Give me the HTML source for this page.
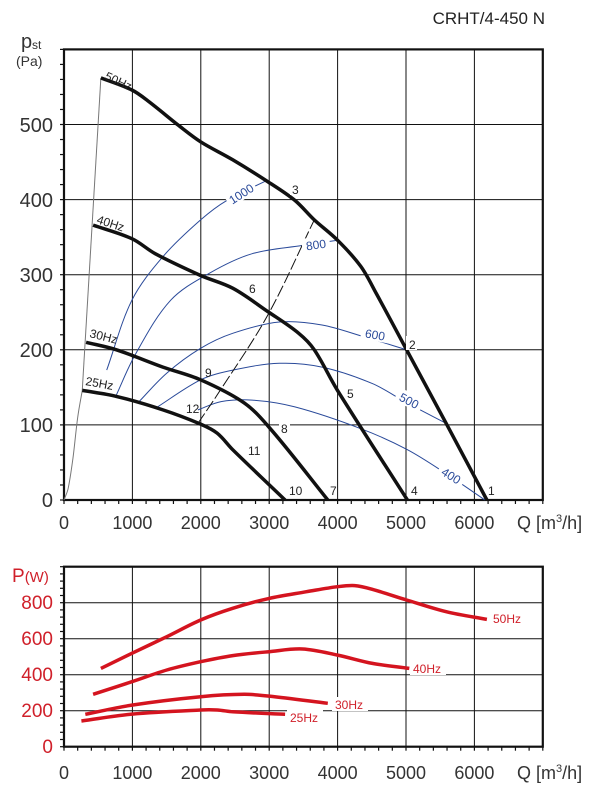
<!DOCTYPE html>
<html><head><meta charset="utf-8">
<style>
html,body{margin:0;padding:0;background:#fff;}
svg{display:block;font-family:"Liberation Sans",Arial,sans-serif;}
</style></head>
<body>
<svg id="s" width="608" height="796" viewBox="0 0 608 796" xmlns="http://www.w3.org/2000/svg">
<rect width="608" height="796" fill="#fff"/>
<g id="grid"></g>
<g id="curves"></g>
<text x="545" y="24" font-size="17" text-anchor="end" fill="#222">CRHT/4-450 N</text>
<text x="21" y="48" font-size="20" fill="#333">p</text><text x="32" y="49" font-size="12" fill="#333">st</text>
<text x="16" y="66" font-size="14" fill="#333">(Pa)</text>
<g font-size="20" fill="#333" text-anchor="end">
<text x="53" y="507">0</text>
<text x="53" y="432">100</text>
<text x="53" y="357">200</text>
<text x="53" y="282">300</text>
<text x="53" y="207">400</text>
<text x="53" y="132">500</text>
</g>
<g font-size="18" fill="#333" text-anchor="middle">
<text x="64" y="529">0</text>
<text x="132.4" y="529">1000</text>
<text x="200.8" y="529">2000</text>
<text x="269.2" y="529">3000</text>
<text x="337.6" y="529">4000</text>
<text x="406" y="529">5000</text>
<text x="474.4" y="529">6000</text>
</g>
<text x="517" y="529" font-size="18" fill="#333">Q [m<tspan font-size="11" dy="-7">3</tspan><tspan dy="7">/h]</tspan></text>
<text x="12" y="582" font-size="19" fill="#d0202a">P<tspan font-size="15">(W)</tspan></text>
<g font-size="19" fill="#d0202a" text-anchor="end">
<text x="53" y="753">0</text>
<text x="53" y="717">200</text>
<text x="53" y="681">400</text>
<text x="53" y="645">600</text>
<text x="53" y="609">800</text>
</g>
<g font-size="18" fill="#333" text-anchor="middle">
<text x="64" y="779">0</text>
<text x="132.4" y="779">1000</text>
<text x="200.8" y="779">2000</text>
<text x="269.2" y="779">3000</text>
<text x="337.6" y="779">4000</text>
<text x="406" y="779">5000</text>
<text x="474.4" y="779">6000</text>
</g>
<text x="517" y="779" font-size="18" fill="#333">Q [m<tspan font-size="11" dy="-7">3</tspan><tspan dy="7">/h]</tspan></text>
<g font-size="12" fill="#222">
<g><rect x="290" y="181" width="11" height="14" fill="#fff"/><text x="292" y="194">3</text></g>
<text x="249" y="293">6</text>
<g><rect x="406" y="336" width="11" height="14" fill="#fff"/><text x="409" y="349">2</text></g>
<text x="205" y="377">9</text>
<text x="347" y="398">5</text>
<text x="186" y="413">12</text>
<g><rect x="279" y="421" width="11" height="14" fill="#fff"/><text x="281" y="433">8</text></g>
<text x="248" y="455">11</text>
<g><rect x="288" y="483" width="17" height="14" fill="#fff"/><text x="289" y="495">10</text></g>
<text x="330" y="495">7</text>
<text x="411" y="495">4</text>
<text x="488" y="495">1</text>
<text x="104" y="79" transform="rotate(25 104 79)">50Hz</text>
<text x="96" y="223" transform="rotate(18 96 223)">40Hz</text>
<text x="89" y="337" transform="rotate(14 89 337)">30Hz</text>
<text x="85" y="385" transform="rotate(10 85 385)">25Hz</text>
</g>
<g font-size="12" fill="#2a4a9a">
<g transform="rotate(-33 242 195)"><rect x="226" y="186" width="32" height="14" fill="#fff"/><text x="242" y="198" text-anchor="middle">1000</text></g>
<g transform="rotate(-8 316 245)"><rect x="302" y="237" width="28" height="14" fill="#fff"/><text x="316" y="249" text-anchor="middle">800</text></g>
<g transform="rotate(10 375 335)"><rect x="361" y="327" width="28" height="14" fill="#fff"/><text x="375" y="339" text-anchor="middle">600</text></g>
<g transform="rotate(28 409 401)"><rect x="395" y="393" width="28" height="14" fill="#fff"/><text x="409" y="405" text-anchor="middle">500</text></g>
<g transform="rotate(32 451 476)"><rect x="437" y="468" width="28" height="14" fill="#fff"/><text x="451" y="480" text-anchor="middle">400</text></g>
</g>
<g font-size="12" fill="#d0202a">
<rect x="490" y="611" width="36" height="14" fill="#fff"/><text x="493" y="623">50Hz</text>
<rect x="410" y="661" width="36" height="14" fill="#fff"/><text x="413" y="673">40Hz</text>
<rect x="332" y="697" width="36" height="14" fill="#fff"/><text x="335" y="709">30Hz</text>
<rect x="287" y="710" width="36" height="14" fill="#fff"/><text x="290" y="722">25Hz</text>
</g>
</svg>
<script>
(function(){
var NS="http://www.w3.org/2000/svg";
function X(q){return 64+q*0.0684;}
function Y(p){return 500-p*0.751;}
function Yb(P){return 746.7-P*0.18;}
var grid=document.getElementById('grid'),cur=document.getElementById('curves');
function el(par,tag,a){var e=document.createElementNS(NS,tag);for(var k in a)e.setAttribute(k,a[k]);par.appendChild(e);return e;}
function line(par,x1,y1,x2,y2,w,c){el(par,'line',{x1:x1,y1:y1,x2:x2,y2:y2,stroke:c||'#111','stroke-width':w});}
function dist(a,b){return Math.sqrt(Math.pow(a[0]-b[0],2)+Math.pow(a[1]-b[1],2))||1;}
function path(pts){
  var d='M'+pts[0][0].toFixed(1)+','+pts[0][1].toFixed(1);
  for(var i=0;i<pts.length-1;i++){
    var p0=pts[i-1]||pts[i],p1=pts[i],p2=pts[i+1],p3=pts[i+2]||p2;
    var d1=dist(p1,p2);
    var t1=[(p2[0]-p0[0]),(p2[1]-p0[1])],l1=dist(p0,p2);
    var t2=[(p3[0]-p1[0]),(p3[1]-p1[1])],l2=dist(p1,p3);
    var c1=[p1[0]+t1[0]/l1*d1/3,p1[1]+t1[1]/l1*d1/3];
    var c2=[p2[0]-t2[0]/l2*d1/3,p2[1]-t2[1]/l2*d1/3];
    d+=' C'+c1[0].toFixed(1)+','+c1[1].toFixed(1)+' '+c2[0].toFixed(1)+','+c2[1].toFixed(1)+' '+p2[0].toFixed(1)+','+p2[1].toFixed(1);
  }
  return d;
}
function draw(data,yf,w,c,extra){
  var pts=data.map(function(d){return [X(d[0]),yf(d[1])];});
  var a={d:path(pts),fill:'none',stroke:c,'stroke-width':w,'stroke-linecap':'butt','stroke-linejoin':'round'};
  for(var k in extra)a[k]=extra[k];
  el(cur,'path',a);
}
function frame(top,bot,yf,majors,minorStep,maxv){
  for(var q=1000;q<7000;q+=1000)line(grid,X(q),top,X(q),bot,1);
  majors.forEach(function(v){line(grid,X(0),yf(v),X(7000),yf(v),1);});
  for(var q=0;q<=7000;q+=200)line(grid,X(q),bot,X(q),bot+4,1.2);
  for(var v=0;v<=maxv+0.1;v+=minorStep){line(grid,X(0)-4,yf(v),X(0),yf(v),1.2);}
  el(grid,'rect',{x:X(0),y:top,width:X(7000)-X(0),height:bot-top,fill:'none',stroke:'#111','stroke-width':2.2});
}
frame(Y(600),Y(0),Y,[100,200,300,400,500],20,600);
frame(Yb(1000),Yb(0),Yb,[200,400,600,800],40,1000);
draw([[0,0],[60,15],[130,55],[200,110],[267,146]],Y,1,'#777');
el(cur,'line',{x1:X(267),y1:Y(146),x2:X(539),y2:Y(562),stroke:'#777','stroke-width':1});
var B='#2a4a9a';
draw([[624,173],[993,266],[1446,324],[1997,373],[2382,399],[2978,426]],Y,1,B);
draw([[766,140],[1049,195],[1560,266],[2127,302],[2751,328],[3488,339],[3999,346]],Y,1,B);
draw([[1078,129],[1503,169],[1997,202],[2467,222],[3148,237],[3772,233],[4396,217],[5009,200]],Y,1,B);
draw([[1333,122],[1997,160],[2467,173],[3148,182],[3772,177],[4509,155],[5020,129],[5587,102]],Y,1,B);
draw([[1957,120],[2297,131],[2751,133],[3375,124],[4339,95],[5020,67],[5587,35],[6154,0]],Y,1,B);
draw([[1957,102],[2240,140],[2978,246],[3659,373]],Y,1,'#111',{'stroke-dasharray':'12,3'});
var K='#111';
draw([[539,562],[993,546],[1220,532],[1673,499],[1997,477],[2467,453],[2978,424],[3375,399],[3659,373],[3999,346],[4339,311],[4566,275],[5009,200],[5587,102],[6183,0]],Y,3.5,K);
draw([[425,366],[993,348],[1333,328],[1997,299],[2467,282],[2978,251],[3432,222],[3659,200],[3999,146],[5020,0]],Y,3.5,K);
draw([[323,210],[766,200],[1446,177],[1997,160],[2638,129],[3035,93],[3857,0]],Y,3.5,K);
draw([[267,146],[766,138],[1446,120],[1997,101],[2240,89],[2467,67],[3233,0]],Y,3.5,K);
var R='#d4141f';
draw([[539,435],[993,519],[1503,611],[1997,704],[2467,769],[3000,824],[3545,861],[3999,889],[4250,895],[4500,875],[5009,815],[5587,750],[6183,707]],Yb,3.5,R);
draw([[425,291],[993,361],[1503,426],[1997,472],[2467,506],[3000,528],[3488,543],[3999,509],[4509,463],[5048,435]],Yb,3.5,R);
draw([[312,180],[993,231],[1997,278],[2638,291],[3000,281],[3857,241]],Yb,3.5,R);
draw([[255,143],[993,181],[1997,204],[2240,204],[2467,194],[3233,180]],Yb,3.5,R);
})();
</script>
</body></html>
